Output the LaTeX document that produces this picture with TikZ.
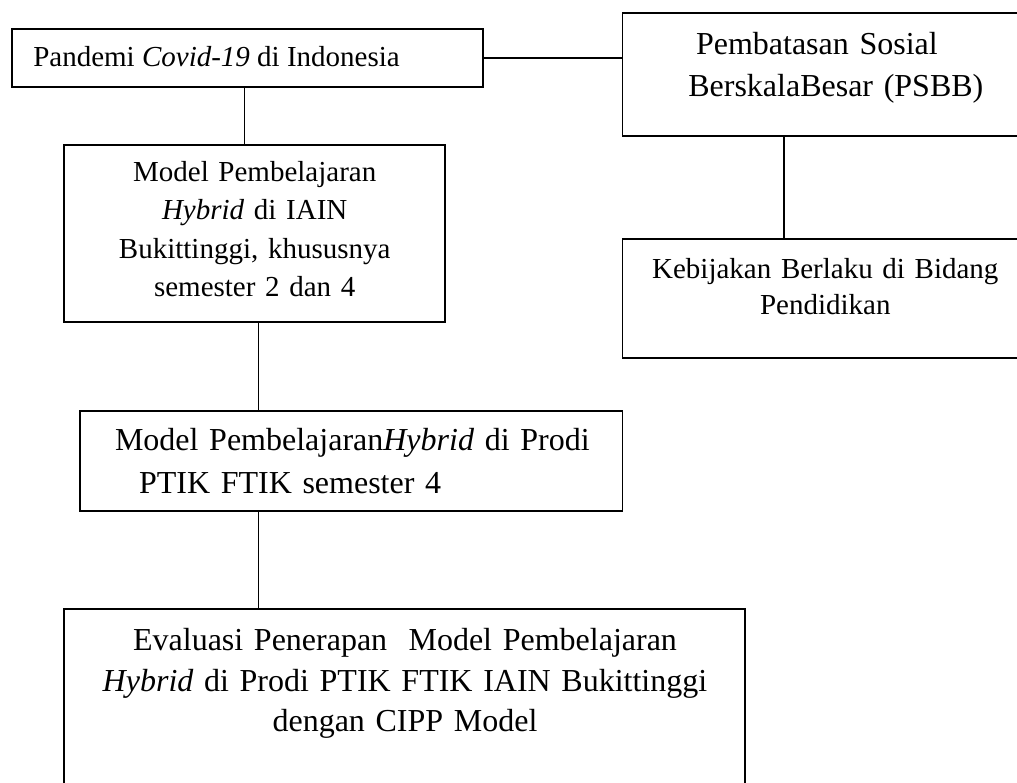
\documentclass[tikz,border=0pt]{standalone}
\usepackage{fontspec}
\setmainfont{Liberation Serif}
\begin{document}
\begin{tikzpicture}[x=1pt,y=-1pt,
  box/.style={draw, line width=1.8pt, rectangle, inner sep=0pt, outer sep=0pt},
  link/.style={line width=1.5pt},
  txt/.style={inner sep=0pt, outer sep=0pt, text=black}]
\useasboundingbox (0,0) rectangle (1017,783);
\clip (0,0) rectangle (1017,783);
% boxes
\node[box, minimum width=471.3pt, minimum height=58.3pt] (b1) at (247.65,58.15) {};
\node[box, minimum width=477.5pt, minimum height=123pt] (b2) at (861.25,74.2) {};
\node[box, minimum width=381.3pt, minimum height=177pt] (b3) at (254.65,233.5) {};
\node[box, minimum width=477.5pt, minimum height=119.6pt] (b4) at (861.25,298.5) {};
\node[box, minimum width=542.2pt, minimum height=100pt] (b5) at (351.4,460.7) {};
\node[box, minimum width=681.3pt, minimum height=220.7pt] (b6) at (404.65,719.65) {};
% texts
\node[txt, anchor=base west, font=\fontsize{29}{38.3}\selectfont] (t1) at (33.3,66.7)
  {Pandemi \textit{Covid-19} di Indonesia};
\node[txt, anchor=base west, text width=320pt, align=left, font=\fontsize{32}{42.3}\selectfont] (t2) at (688.3,54.3)
  {\hspace*{7.7pt}Pembatasan Sosial\\BerskalaBesar (PSBB)};
\node[txt, anchor=base, text width=360pt, align=center, font=\fontsize{29}{38.3}\selectfont] (t3) at (254.7,181.7)
  {Model Pembelajaran\\\textit{Hybrid} di IAIN\\Bukittinggi, khususnya\\semester 2 dan 4};
\node[txt, anchor=base, text width=380pt, align=center, font=\fontsize{29}{36.7}\selectfont] (t4) at (825.3,278.3)
  {Kebijakan Berlaku di Bidang\\Pendidikan};
\node[txt, anchor=base west, text width=500pt, align=left, font=\fontsize{32}{43.3}\selectfont] (t5) at (115,450)
  {Model Pembelajaran\textit{Hybrid} di Prodi\\\hspace*{24pt}PTIK FTIK semester 4};
\node[txt, anchor=base, text width=660pt, align=center, font=\fontsize{32}{40.3}\selectfont] (t6) at (405,650.7)
  {Evaluasi Penerapan\ \ Model Pembelajaran\\\textit{Hybrid} di Prodi PTIK FTIK IAIN Bukittinggi\\dengan CIPP Model};
% connectors
\coordinate (x13) at (244.3,0);
\coordinate (x24) at (784,0);
\coordinate (x35) at (258.3,0);
\draw[link] (b1.east) -- (b2.west |- b1.east);
\draw[link] (b1.south -| x13) -- (b3.north -| x13);
\draw[link] (b2.south -| x24) -- (b4.north -| x24);
\draw[link] (b3.south -| x35) -- (b5.north -| x35);
\draw[link] (b5.south -| x35) -- (b6.north -| x35);
\end{tikzpicture}
\end{document}
